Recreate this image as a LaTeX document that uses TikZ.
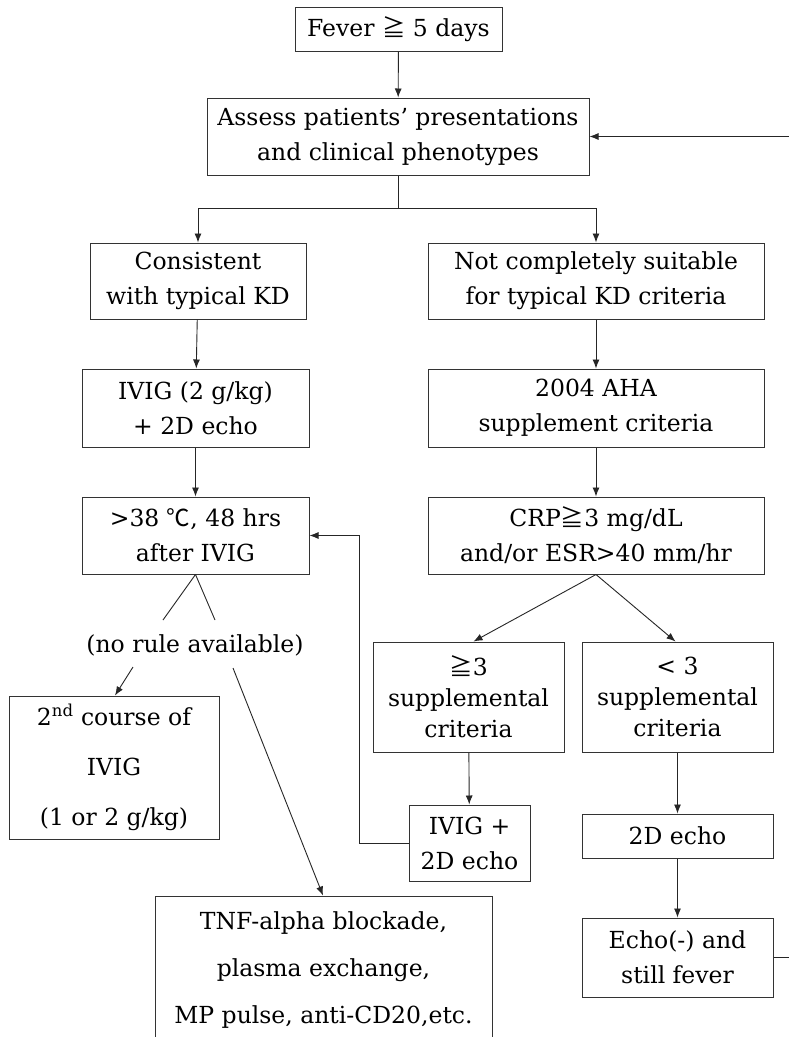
\documentclass[tikz,border=0pt]{standalone}
\usepackage{fontspec}
\setmainfont{DejaVu Serif}
\newfontfamily\cjk{Noto Sans CJK SC}
\usetikzlibrary{arrows.meta,calc}
\begin{document}
\begin{tikzpicture}[x=1pt,y=-1pt,
  box/.style={draw=black!80, line width=1pt, align=center, inner sep=0pt,
    font=\fontsize{23.5}{35}\selectfont},
  tight/.style={font=\fontsize{23.5}{31}\selectfont},
  plain/.style={align=center, inner sep=0pt, font=\fontsize{23.5}{35}\selectfont},
  ln/.style={line width=0.9pt, draw=black!85},
  arr/.style={ln, -{Latex[length=9pt,width=7pt]}}]
\useasboundingbox (0,0) rectangle (788,1037);
\fill[white] (0,0) rectangle (788,1037);

\node[box, minimum width=207pt, minimum height=44pt] (fever) at (398.5,29) {Fever {\cjk ≧} 5 days};
\node[box, minimum width=382pt, minimum height=77pt] (assess) at (398,136.5) {Assess patients' presentations\\and clinical phenotypes};
\node[box, minimum width=216pt, minimum height=76pt] (cons) at (198,281) {Consistent\\with typical KD};
\node[box, minimum width=336pt, minimum height=76pt] (notc) at (596,281) {Not completely suitable\\for typical KD criteria};
\node[box, minimum width=227pt, minimum height=78pt] (ivig) at (195.5,408) {IVIG (2 g/kg)\\+ 2D echo};
\node[box, minimum width=336pt, minimum height=78pt] (aha) at (596,408) {2004 AHA\\supplement criteria};
\node[box, minimum width=227pt, minimum height=77pt] (t38) at (195.5,535.5) {>38 {\cjk ℃}, 48 hrs\\after IVIG};
\node[box, minimum width=336pt, minimum height=77pt] (crp) at (596,535.5) {CRP{\cjk ≧}3 mg/dL\\and/or ESR>40 mm/hr};
\node[box, tight, minimum width=191pt, minimum height=110pt] (ge3) at (468.5,697) {{\cjk ≧}3\\supplemental\\criteria};
\node[box, tight, minimum width=191pt, minimum height=110pt] (lt3) at (677.5,697) {< 3\\supplemental\\criteria};
\node[plain] (norule) at (195,645) {(no rule available)};
\node[box, minimum width=210pt, minimum height=143pt] (second) at (114,767.5) {2\textsuperscript{nd} course of\\[15pt]IVIG\\[15pt](1 or 2 g/kg)};
\node[box, minimum width=121pt, minimum height=76pt] (ivig2) at (469.5,843) {IVIG +\\2D echo};
\node[box, minimum width=191pt, minimum height=44pt] (echo2d) at (677.5,836) {2D echo};
\node[box, minimum width=191pt, minimum height=79pt] (echoneg) at (677.5,957.5) {Echo(-) and\\still fever};
\node[box, minimum width=337pt, minimum height=149pt] (tnf) at (323.5,970.5) {TNF-alpha blockade,\\[12pt]plasma exchange,\\[12pt]MP pulse, anti-CD20,etc.};

% connectors
\draw[arr] (fever) -- (assess);
\coordinate (split) at (398,208);
\draw[ln] (assess) -- (split);
\draw[arr] (split) -| (cons);
\draw[arr] (split) -| (notc);
\draw[arr] (cons) -- (ivig);
\draw[arr] (ivig) -- (t38);
\draw[arr] (notc) -- (aha);
\draw[arr] (aha) -- (crp);
\draw[arr] (crp.south) -- ($(ge3.north)+(5,0)$);
\draw[arr] (crp.south) -- ($(lt3.north)+(-2,0)$);
\draw[arr] (ge3) -- (ivig2);
\draw[arr] (lt3) -- (echo2d);
\draw[arr] (echo2d) -- (echoneg);

\coordinate (nl) at (163,620);
\coordinate (nr) at (215,620);
\draw[ln] (t38.south) -- (nl);
\draw[ln] (t38.south) -- (nr);
\coordinate (nbl) at (133,667);
\coordinate (nbr) at (233,668);
\draw[arr] (nbl) -- ($(second.north)+(1,0)$);
\draw[arr] (nbr) -- ($(tnf.north)+(-0.5,0)$);

% feedback loops
\coordinate (lpA) at (359,843);
\draw[arr] (ivig2.west) -- (lpA) |- (t38.east);
\coordinate (lpB) at (790,957.5);
\draw[arr] (echoneg.east) -- (lpB) |- (assess.east);
\end{tikzpicture}
\end{document}
